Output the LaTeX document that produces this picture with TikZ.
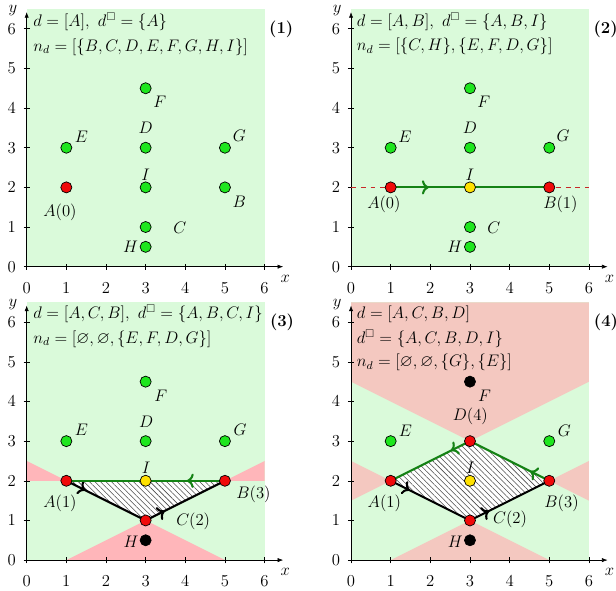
\documentclass[tikz,border=0pt]{standalone}
\usepackage{amsmath}
\usepackage{amssymb}
\usetikzlibrary{arrows.meta,decorations.markings,patterns.meta}
\definecolor{bggreen}{RGB}{218,250,218}
\definecolor{zonered}{RGB}{255,182,186}
\definecolor{zonesalmon}{RGB}{244,200,192}
\definecolor{ptgreen}{RGB}{30,230,30}
\definecolor{ptred}{RGB}{240,10,10}
\definecolor{ptyellow}{RGB}{255,225,0}
\definecolor{pathgreen}{RGB}{20,130,20}
\definecolor{dashred}{RGB}{200,40,40}

% the nine points of every panel
\newcommand{\setpoints}{%
  \coordinate (A) at (1,2);
  \coordinate (B) at (5,2);
  \coordinate (C) at (3,1);
  \coordinate (D) at (3,3);
  \coordinate (E) at (1,3);
  \coordinate (F) at (3,4.5);
  \coordinate (G) at (5,3);
  \coordinate (H) at (3,0.5);
  \coordinate (I) at (3,2);
}

% axes with ticks
\newcommand{\drawaxes}{%
  \draw[axis] (0,0) -- (6.47,0);
  \draw[axis] (0,0) -- (0,6.42);
  \node[lbl] (xlbl) at (6.52,-0.3) {$x$};
  \node[lbl] (ylbl) at (-0.35,6.45) {$y$};
  \foreach \k in {0,...,6} {
    \draw (\k,-0.08) -- (\k,0.08);
    \draw (-0.08,\k) -- (0.08,\k);
    \node[lbl] (xt\k) at (\k,-0.53) {$\k$};
    \node[lbl] (yt\k) at (-0.38,\k) {$\k$};
  }
}

\begin{document}
\begin{tikzpicture}[
    every node/.style={font=\large},
    axis/.style={-{Latex[length=4pt,width=3pt]}},
    dot/.style={circle, draw=black, line width=0.5pt, minimum size=0.28cm, inner sep=0pt},
    lbl/.style={inner sep=0pt},
    info/.style={anchor=west, inner sep=0pt},
    tag/.style={inner sep=0pt, font=\large\bfseries},
    walk/.style={
        line width=1.5pt,
        postaction={decorate},
        decoration={markings, mark=at position 0.24 with {\arrow{>}}}
    },
    hatch/.style={fill=white, postaction={pattern={Lines[angle=-45,distance=2.8pt,line width=0.4pt]}, pattern color=black!70}}
]
\useasboundingbox (-0.673,-8.179) rectangle (14.863,6.726);

% (1)
\begin{scope}[name prefix=p1-]
\setpoints
\fill[bggreen] (0,0) rectangle (6,6.5);
\drawaxes
\node[dot, fill=ptred] (dA) at (A) {};
\foreach \p in {B,C,D,E,F,G,H,I}
  \node[dot, fill=ptgreen] (d\p) at (\p) {};
\node[lbl] (lA) at (0.84,1.37) {$A(0)$};
\node[lbl] (lB) at (5.36,1.64) {$B$};
\node[lbl] (lC) at (3.86,0.97) {$C$};
\node[lbl] (lD) at (3.0,3.5) {$D$};
\node[lbl] (lE) at (1.38,3.27) {$E$};
\node[lbl] (lF) at (3.36,4.16) {$F$};
\node[lbl] (lG) at (5.36,3.29) {$G$};
\node[lbl] (lH) at (2.62,0.49) {$H$};
\node[lbl] (lI) at (3.0,2.33) {$I$};
\node[info] (line1) at (0.16,6.17) {$d = [A],\ d^{\square} = \{A\}$};
\node[info] (line2) at (0.16,5.54) {$n_d = [\{B,C,D,E,F,G,H,I\}]$};
\node[tag] (tag) at (6.42,5.98) {(1)};
\end{scope}

% (2)
\begin{scope}[shift={(8.18,0)}, name prefix=p2-]
\setpoints
\fill[bggreen] (0,0) rectangle (6,6.5);
\drawaxes
\draw[dashred, line width=0.6pt, dash pattern=on 3.5pt off 3.5pt] (0,2) -- (6,2);
\draw[walk, pathgreen] (A) -- (B);
\foreach \p in {A,B}
  \node[dot, fill=ptred] (d\p) at (\p) {};
\node[dot, fill=ptyellow] (dI) at (I) {};
\foreach \p in {C,D,E,F,G,H}
  \node[dot, fill=ptgreen] (d\p) at (\p) {};
\node[lbl] (lA) at (0.83,1.58) {$A(0)$};
\node[lbl] (lB) at (5.28,1.58) {$B(1)$};
\node[lbl] (lC) at (3.6,0.97) {$C$};
\node[lbl] (lD) at (3.0,3.5) {$D$};
\node[lbl] (lE) at (1.36,3.27) {$E$};
\node[lbl] (lF) at (3.35,4.16) {$F$};
\node[lbl] (lG) at (5.35,3.29) {$G$};
\node[lbl] (lH) at (2.62,0.49) {$H$};
\node[lbl] (lI) at (3.0,2.33) {$I$};
\node[info] (line1) at (0.14,6.17) {$d = [A,B],\ d^{\square} = \{A,B,I\}$};
\node[info] (line2) at (0.14,5.55) {$n_d = [\{C,H\},\{E,F,D,G\}]$};
\node[tag] (tag) at (6.42,5.98) {(2)};
\end{scope}

% (3)
\begin{scope}[shift={(0,-7.40)}, name prefix=p3-]
\setpoints
\fill[bggreen] (0,0) rectangle (6,6.5);
\fill[zonered] (0,2) -- (A) -- (0,2.5) -- cycle;
\fill[zonered] (6,2) -- (B) -- (6,2.5) -- cycle;
\fill[zonered] (1,0) -- (C) -- (5,0) -- cycle;
\path[hatch] (A) -- (C) -- (B) -- cycle;
\drawaxes
\draw[walk] (A) -- (C);
\draw[walk] (C) -- (B);
\draw[walk, pathgreen] (B) -- (A);
\foreach \p in {A,B,C}
  \node[dot, fill=ptred] (d\p) at (\p) {};
\node[dot, fill=ptyellow] (dI) at (I) {};
\node[dot, fill=black] (dH) at (H) {};
\foreach \p in {D,E,F,G}
  \node[dot, fill=ptgreen] (d\p) at (\p) {};
\node[lbl] (lA) at (0.84,1.43) {$A(1)$};
\node[lbl] (lB) at (5.72,1.65) {$B(3)$};
\node[lbl] (lC) at (4.2,0.97) {$C(2)$};
\node[lbl] (lD) at (3.01,3.48) {$D$};
\node[lbl] (lE) at (1.38,3.29) {$E$};
\node[lbl] (lF) at (3.38,4.15) {$F$};
\node[lbl] (lG) at (5.38,3.29) {$G$};
\node[lbl] (lH) at (2.63,0.46) {$H$};
\node[lbl] (lI) at (3.01,2.32) {$I$};
\node[info] (line1) at (0.16,6.2) {$d = [A,C,B],\ d^{\square} = \{A,B,C,I\}$};
\node[info] (line2) at (0.16,5.57) {$n_d = [\varnothing,\varnothing,\{E,F,D,G\}]$};
\node[tag] (tag) at (6.44,5.99) {(3)};
\end{scope}

% (4)
\begin{scope}[shift={(8.18,-7.40)}, name prefix=p4-]
\setpoints
\fill[bggreen] (0,0) rectangle (6,6.5);
\fill[zonesalmon] (0,6.5) -- (0,4.5) -- (D) -- (6,4.5) -- (6,6.5) -- cycle;
\fill[zonesalmon] (0,1.5) -- (A) -- (0,2.5) -- cycle;
\fill[zonesalmon] (6,1.5) -- (B) -- (6,2.5) -- cycle;
\fill[zonesalmon] (1,0) -- (C) -- (5,0) -- cycle;
\path[hatch] (A) -- (C) -- (B) -- (D) -- cycle;
\drawaxes
\draw[walk] (A) -- (C);
\draw[walk] (C) -- (B);
\draw[walk, pathgreen] (B) -- (D);
\draw[walk, pathgreen] (D) -- (A);
\foreach \p in {A,B,C,D}
  \node[dot, fill=ptred] (d\p) at (\p) {};
\node[dot, fill=ptyellow] (dI) at (I) {};
\foreach \p in {F,H}
  \node[dot, fill=black] (d\p) at (\p) {};
\foreach \p in {E,G}
  \node[dot, fill=ptgreen] (d\p) at (\p) {};
\node[lbl] (lA) at (0.84,1.43) {$A(1)$};
\node[lbl] (lB) at (5.31,1.43) {$B(3)$};
\node[lbl] (lC) at (4.01,1.03) {$C(2)$};
\node[lbl] (lD) at (3.01,3.63) {$D(4)$};
\node[lbl] (lE) at (1.37,3.27) {$E$};
\node[lbl] (lF) at (3.37,4.14) {$F$};
\node[lbl] (lG) at (5.38,3.27) {$G$};
\node[lbl] (lH) at (2.63,0.46) {$H$};
\node[lbl] (lI) at (3.01,2.32) {$I$};
\node[info] (line1) at (0.14,6.2) {$d = [A,C,B,D]$};
\node[info] (line2) at (0.14,5.59) {$d^{\square} = \{A,C,B,D,I\}$};
\node[info] (line3) at (0.14,4.98) {$n_d = [\varnothing,\varnothing,\{G\},\{E\}]$};
\node[tag] (tag) at (6.43,5.99) {(4)};
\end{scope}
\end{tikzpicture}
\end{document}
